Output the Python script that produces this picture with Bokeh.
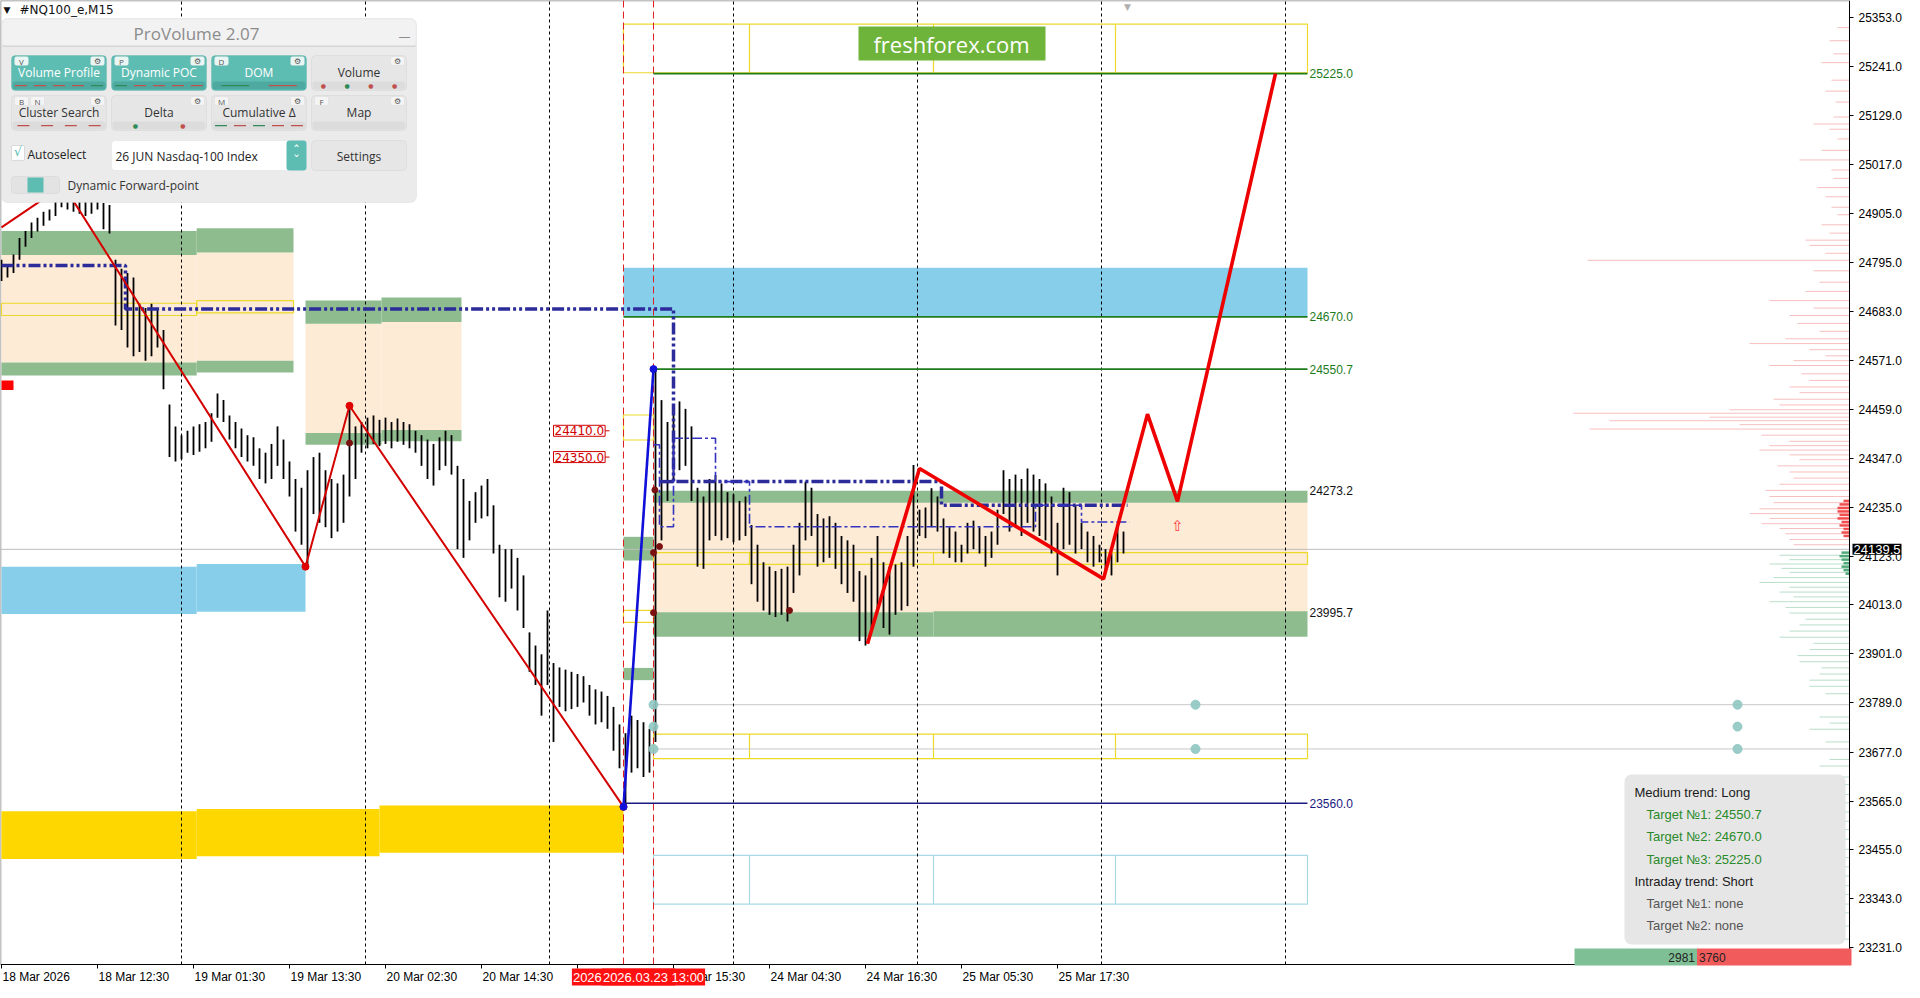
from bokeh.plotting import figure
from bokeh.models import Range1d, FixedTicker, NumeralTickFormatter, Label, BoxAnnotation
from bokeh.core.properties import value
from bokeh.embed import file_html
from bokeh.resources import INLINE

# ---------------- data ----------------
symbol = "#NQ100_e,M15"
bar_step = 3
bars_high_low = [
    (24800, 24752), (24790, 24760), (24812, 24770), (24850, 24800), (24866, 24830), (24885, 24850), (24896, 24865), (24910, 24878), (24915, 24890), (24935, 24900),
    (24970, 24920), (24960, 24915), (24950, 24910), (24945, 24905), (24940, 24900), (24935, 24905), (24940, 24915), (24930, 24870), (24925, 24860), (24800, 24650),
    (24780, 24640), (24770, 24600), (24760, 24580), (24700, 24590), (24690, 24570), (24700, 24580), (24690, 24600), (24640, 24505), (24470, 24350), (24420, 24340),
    (24400, 24345), (24410, 24360), (24420, 24355), (24425, 24362), (24430, 24370), (24450, 24385), (24495, 24440), (24480, 24430), (24445, 24390), (24430, 24370),
    (24415, 24350), (24400, 24340), (24395, 24330), (24370, 24300), (24360, 24290), (24380, 24300), (24420, 24330), (24390, 24300), (24340, 24260), (24300, 24180),
    (24280, 24150), (24320, 24100), (24350, 24220), (24360, 24200), (24320, 24190), (24300, 24165), (24290, 24180), (24310, 24200), (24467, 24260), (24420, 24300),
    (24430, 24360), (24440, 24370), (24445, 24380), (24435, 24375), (24440, 24380), (24430, 24370), (24438, 24385), (24430, 24378), (24425, 24370), (24410, 24360),
    (24400, 24330), (24390, 24300), (24380, 24285), (24395, 24320), (24410, 24330), (24400, 24310), (24330, 24140), (24300, 24120), (24250, 24160), (24270, 24200),
    (24285, 24210), (24300, 24215), (24240, 24130), (24150, 24030), (24140, 24020), (24140, 24050), (24120, 24000), (24080, 23960), (23950, 23860), (23920, 23830),
    (23900, 23760), (24000, 23830), (23880, 23700), (23870, 23780), (23865, 23770), (23860, 23775), (23855, 23780), (23850, 23790), (23830, 23760), (23820, 23740),
    (23815, 23745), (23805, 23730), (23780, 23680), (23740, 23640), (23720, 23560), (23760, 23630), (23750, 23640), (23745, 23620), (23730, 23630), (24550, 23700),
    (24480, 24160), (24430, 24250), (24470, 24300), (24477, 24320), (24460, 24330), (24420, 24250), (24280, 24100), (24260, 24095), (24300, 24160), (24309, 24170),
    (24290, 24160), (24270, 24165), (24265, 24156), (24250, 24160), (24260, 24170), (24195, 24060), (24150, 24020), (24110, 24000), (24100, 23990), (24090, 23985),
    (24095, 23990), (24100, 23975), (24150, 24040), (24200, 24080), (24294, 24160), (24280, 24170), (24220, 24100), (24210, 24110), (24215, 24120), (24200, 24095),
    (24170, 24060), (24160, 24040), (24150, 24020), (24090, 23930), (24080, 23920), (24120, 23960), (24170, 24000), (24110, 23960), (24100, 23945), (24105, 23990),
    (24110, 24000), (24170, 24010), (24332, 24100), (24230, 24170), (24235, 24165), (24279, 24190), (24260, 24180), (24210, 24130), (24190, 24120), (24180, 24110),
    (24150, 24110), (24200, 24130), (24205, 24140), (24190, 24130), (24170, 24100), (24180, 24120), (24230, 24150), (24320, 24220), (24300, 24180), (24310, 24190),
    (24300, 24170), (24324, 24200), (24310, 24180), (24300, 24170), (24290, 24160), (24260, 24130), (24200, 24080), (24280, 24140), (24270, 24150), (24240, 24130),
    (24200, 24140), (24180, 24110), (24170, 24100), (24150, 24110), (24140, 24090), (24130, 24080), (24190, 24110), (24180, 24130),
]
last_price = 24139.5

price_ticks = [25353.0, 25241.0, 25129.0, 25017.0, 24905.0, 24795.0, 24683.0, 24571.0, 24459.0, 24347.0,
               24235.0, 24123.0, 24013.0, 23901.0, 23789.0, 23677.0, 23565.0, 23455.0, 23343.0, 23231.0]
time_ticks = [0, 48, 96, 144, 192, 240, 288, 336, 384, 432, 480, 528]
time_labels = ["18 Mar 2026", "18 Mar 12:30", "19 Mar 01:30", "19 Mar 13:30", "20 Mar 02:30", "20 Mar 14:30",
               "23 Mar 02:30", "23 Mar 15:30", "24 Mar 04:30", "24 Mar 16:30", "25 Mar 05:30", "25 Mar 17:30"]
day_separators = [90, 182, 274, 366, 458, 550, 642]
session_bars = [311, 326]
session_labels = ["2026.03.23 09:15", "2026.03.23 13:00"]

# zones: (x0, x1, bottom, top)
green_bands = [(0, 97.6, 24811, 24866), (97.6, 146, 24817, 24872), (0, 97.6, 24536, 24566), (97.6, 146, 24543, 24570),
               (152, 190, 24654, 24707), (190, 230, 24658, 24714), (152, 190, 24378, 24405), (190, 230, 24386, 24412),
               (326, 653, 24246, 24273.2), (326, 466, 23940, 23995.7), (466, 653, 23940, 23998),
               (311, 326, 24114, 24168), (311, 326, 23841, 23869)]
peach_zones = [(0, 97.6, 24566, 24811), (97.6, 146, 24570, 24817), (152, 190, 24405, 24654), (190, 230, 24412, 24658),
               (326, 653, 23995.7, 24246)]
blue_zones = [(0, 97.6, 23992, 24100), (97.6, 152, 23997, 24106), (311, 653, 24670, 24782)]
gold_zones = [(0, 97.6, 23433, 23542), (97.6, 189, 23439, 23547), (189, 311, 23447, 23555)]
yellow_boxes = [(0, 97.6, 24673, 24701), (97.6, 146, 24679, 24707), (311, 653, 25227, 25338), (326, 653, 24105, 24132),
                (326, 653, 23662, 23718), (311, 326, 24389, 24446), (311, 326, 23973, 24000)]
yellow_dividers = [374, 466, 557]
yellow_divided = [(25227, 25338), (24105, 24132), (23662, 23718)]
cyan_boxes = [(326, 653, 23330, 23441)]

# levels
target_levels = [25225.0, 24670.0, 24550.7]
target_starts = [326, 311, 326]
zone_levels = [24273.2, 23995.7]
low_level = 23560.0
level_end = 653
marker_lines = [23785, 23684]
marker_dots_x = [326, 326, 326, 597, 597, 868, 868, 868]
marker_dots_y = [23785, 23735, 23684, 23785, 23684, 23785, 23735, 23684]
price_tags = [24410.0, 24350.0]

# zigzags
zigzag_x = [0, 31, 152, 174, 311]
zigzag_y = [24874, 24970, 24100, 24467, 23552]
impulse_x = [311, 326]
impulse_y = [23552, 24550.7]
forecast_x = [433, 459, 551, 573, 588, 637]
forecast_y = [23924, 24324, 24072, 24448, 24249, 25225]
poc_x = [0, 62, 62, 336, 336, 470, 470, 563]
poc_y = [24787, 24787, 24688, 24688, 24294, 24294, 24240, 24240]
dev_poc_x = [326, 329, 329, 336, 336, 357, 357, 374, 374, 517, 517, 540, 540, 564]
dev_poc_y = [24378, 24378, 24191, 24191, 24393, 24393, 24294, 24294, 24191, 24191, 24240, 24240, 24202, 24202]
pivot_dots_x = [174, 326.7, 394, 326, 326, 329]
pivot_dots_y = [24382, 24275, 24000, 24132, 23995, 24146]

# volume profile at the right edge (price, volume)
vp_above = [(25330, 6), (25300, 10), (25270, 8), (25250, 14), (25210, 9), (25185, 12), (25160, 7), (25126, 8), (25110, 18), (25098, 10),
            (25076, 6), (25050, 14), (25028, 25), (25005, 9), (24986, 8), (24965, 16), (24944, 12), (24920, 9), (24903, 6), (24880, 14),
            (24861, 10), (24845, 22), (24833, 20), (24815, 12), (24799, 131), (24775, 18), (24749, 15), (24728, 22), (24707, 40), (24690, 18),
            (24673, 30), (24655, 26), (24637, 15), (24620, 32), (24609, 50), (24595, 20), (24581, 12), (24570, 28), (24559, 40), (24540, 24),
            (24525, 20), (24510, 30), (24497, 25), (24482, 38), (24469, 35), (24458, 60), (24450, 138), (24441, 70), (24433, 120), (24424, 55),
            (24414, 130), (24400, 44), (24386, 30), (24376, 40), (24366, 45), (24355, 30), (24344, 25), (24330, 36), (24316, 30), (24302, 28),
            (24288, 35), (24274, 42), (24260, 40), (24246, 38), (24232, 45), (24221, 50), (24210, 40), (24198, 44), (24187, 35), (24175, 32),
            (24162, 30), (24150, 28)]
vp_below = [(24126, 35), (24116, 30), (24106, 40), (24096, 34), (24087, 30), (24075, 38), (24064, 45), (24053, 30), (24042, 35), (24031, 28),
            (24020, 40), (24007, 32), (23994, 30), (23980, 22), (23967, 25), (23953, 30), (23939, 35), (23925, 18), (23911, 20), (23897, 26),
            (23883, 25), (23869, 14), (23855, 15), (23841, 20), (23827, 20), (23810, 12), (23757, 15), (23743, 10), (23729, 20), (23700, 12),
            (23660, 10), (23645, 15), (23620, 18), (23603, 35), (23580, 22), (23561, 40), (23540, 16), (23519, 20), (23500, 12), (23478, 30),
            (23455, 14), (23436, 15), (23415, 22), (23394, 25), (23372, 10), (23352, 20), (23330, 12), (23310, 15), (23280, 8), (23250, 10)]
delta_above = [(24250, 3), (24242, 5), (24234, 6), (24226, 6), (24218, 5), (24210, 6), (24202, 4), (24194, 5), (24186, 3), (24178, 4), (24170, 3)]
delta_below = [(24132, 4), (24124, 5), (24116, 4), (24108, 3), (24100, 4), (24092, 3), (24084, 2)]
buy_volume = 2981
sell_volume = 3760

info_lines = ["Medium trend: Long", "Target №1: 24550.7", "Target №2: 24670.0", "Target №3: 25225.0",
              "Intraday trend: Short", "Target №1: none", "Target №2: none"]

# ---------------- figure ----------------
CW, CH = 1904, 988          # canvas == frame (axes are drawn at fixed locations inside)
PXB = 2.0                   # screen px per bar
X0 = -0.5
X1 = X0 + CW / PXB
AX = 924.0                  # price axis position (bar units)
YTOP = 25391.8
PPX = 2.28174               # price per screen px
YAX = YTOP - 964 * PPX      # time axis position (price units)
YBOT = YTOP - CH * PPX

p = figure(x_range=Range1d(X0, X1), y_range=Range1d(YBOT, YTOP), frame_width=CW, frame_height=CH,
           output_backend="svg", toolbar_location=None, y_axis_location="right",
           min_border_left=0, min_border_top=0, min_border_right=0, min_border_bottom=0,
           background_fill_color="white", border_fill_color="white")
p.xgrid.visible = False
p.ygrid.visible = False
p.outline_line_color = None

p.xaxis.fixed_location = YAX
p.yaxis.fixed_location = AX
p.xaxis.bounds = (X0, AX)
p.yaxis.bounds = (YAX, YTOP)
p.xaxis.ticker = FixedTicker(ticks=time_ticks)
p.xaxis.major_label_overrides = {t: "" for t in time_ticks}
p.yaxis.ticker = FixedTicker(ticks=price_ticks)
p.yaxis.formatter = NumeralTickFormatter(format="0.0")
for ax in (p.xaxis, p.yaxis):
    ax.minor_tick_line_color = None
    ax.major_tick_out = 4
    ax.major_tick_in = 0
    ax.axis_line_color = "black"
    ax.major_tick_line_color = "black"
    ax.major_label_text_font = "Liberation Sans"
    ax.major_label_text_font_size = "12px"
    ax.major_label_text_color = "black"
p.yaxis.major_label_standoff = 5


def X(px):
    return X0 + (px - 4) / PXB


def Y(py):
    return YTOP - (py - 6) * PPX


def cols(rows):
    return [list(c) for c in zip(*rows)]


# frame border (top / left)
p.segment(x0=[X0, X0], x1=[AX, X0], y0=[YTOP, YTOP], y1=[YTOP, YAX], line_color="#888888", line_width=1.5)

# time-axis labels, left-aligned at their ticks (MetaTrader style)
p.text(x=time_ticks, y=[YAX] * len(time_ticks), text=time_labels, text_align="left", text_baseline="top",
       x_offset=1, y_offset=5, text_font=value("Liberation Sans"), text_font_size="12px", text_color="black")

# zones
for rows, fill in ((peach_zones, "#fdebd6"), (green_bands, "#8fbc8f"), (blue_zones, "#87ceeb"), (gold_zones, "#ffd700")):
    l, r, b, t = cols(rows)
    p.quad(left=l, right=r, bottom=b, top=t, fill_color=fill, line_color=None)
l, r, b, t = cols(yellow_boxes)
p.quad(left=l, right=r, bottom=b, top=t, fill_alpha=0, line_color="#ecd92a", line_width=1.2)
l, r, b, t = cols(cyan_boxes)
p.quad(left=l, right=r, bottom=b, top=t, fill_alpha=0, line_color="#a9d9e6", line_width=1.2)
dx, dy0, dy1 = [], [], []
for lo, hi in yellow_divided:
    for d in yellow_dividers:
        dx.append(d); dy0.append(lo); dy1.append(hi)
p.segment(x0=dx, x1=dx, y0=dy0, y1=dy1, line_color="#ecd92a", line_width=1.2)
cdx, cdy0, cdy1 = [], [], []
for (_, _, lo, hi) in cyan_boxes:
    for d in yellow_dividers:
        cdx.append(d); cdy0.append(lo); cdy1.append(hi)
p.segment(x0=cdx, x1=cdx, y0=cdy0, y1=cdy1, line_color="#a9d9e6", line_width=1.2)

# volume profile
for rows, col, alpha, lw in ((vp_above, "#f08a8a", 0.55, 1), (vp_below, "#7fc39a", 0.55, 1),
                             (delta_above, "#f03c3c", 0.9, 2.5), (delta_below, "#3fa06a", 0.9, 2.5)):
    vp_p, vp_v = cols(rows)
    p.segment(x0=[AX - v for v in vp_v], x1=[AX] * len(vp_v), y0=vp_p, y1=vp_p, line_color=col, line_alpha=alpha, line_width=lw)

# marker lines and current price line
p.segment(x0=[326] * len(marker_lines), x1=[AX] * len(marker_lines), y0=marker_lines, y1=marker_lines,
          line_color="#c8c8c8", line_width=1)
p.segment(x0=[X0], x1=[AX], y0=[last_price], y1=[last_price], line_color="#bdbdbd", line_width=1)

# candles
bar_x = [bar_step * i for i in range(len(bars_high_low))]
highs, lows = cols(bars_high_low)
p.segment(x0=bar_x, x1=bar_x, y0=lows, y1=highs, line_color="black", line_width=1.8)

# day separators and session lines
p.segment(x0=day_separators, x1=day_separators, y0=[YAX] * len(day_separators), y1=[YTOP] * len(day_separators),
          line_color="black", line_width=1, line_dash="3 3")
p.segment(x0=session_bars, x1=session_bars, y0=[YAX] * len(session_bars), y1=[YTOP] * len(session_bars),
          line_color="#e02020", line_width=1, line_dash="7 4")

# levels
for lvl, st in zip(target_levels, target_starts):
    p.segment(x0=[st], x1=[level_end], y0=[lvl], y1=[lvl], line_color="#1e7b1e", line_width=1.6)
p.segment(x0=[311], x1=[level_end], y0=[low_level], y1=[low_level], line_color="#1a1a80", line_width=1.6)

# POC lines
p.line(poc_x, poc_y, line_color="#2b2b9a", line_width=3.5, line_dash="12 3 3 3 3 3")
p.segment(x0=[329], x1=[336], y0=[24294], y1=[24294], line_color="#2b2b9a", line_width=3.5)
p.line(dev_poc_x, dev_poc_y, line_color="#3333c0", line_width=1.6, line_dash="10 3 3 3")

# zigzags
p.line(zigzag_x, zigzag_y, line_color="#d40000", line_width=2)
p.scatter(zigzag_x[2:], zigzag_y[2:], size=7, color="#e00000")
p.line(impulse_x, impulse_y, line_color="#1010d8", line_width=2.6)
p.scatter(impulse_x, impulse_y, size=7, color="#1010d8")
p.line(forecast_x, forecast_y, line_color="#ee0000", line_width=3.6)
p.scatter(pivot_dots_x, pivot_dots_y, size=6, color="#7a1010")
p.scatter(marker_dots_x, marker_dots_y, size=9, color="#8fc7c2", alpha=0.9)

# red marker square
p.quad(left=[0], right=[6], bottom=[24503], top=[24525], fill_color="#ff0000", line_color=None)

# level labels
for lvl in target_levels:
    p.add_layout(Label(x=level_end + 1, y=lvl, text=f"{lvl:.1f}", text_font="Liberation Sans", text_font_size="12px",
                       text_color="#1e7b1e", text_baseline="middle"))
for lvl in zone_levels:
    p.add_layout(Label(x=level_end + 1, y=lvl, text=f"{lvl:.1f}", text_font="Liberation Sans", text_font_size="12px",
                       text_color="#111111", text_baseline="middle"))
p.add_layout(Label(x=level_end + 1, y=low_level, text=f"{low_level:.1f}", text_font="Liberation Sans", text_font_size="12px",
                   text_color="#1a1a80", text_baseline="middle"))
for tg in price_tags:
    p.segment(x0=[299], x1=[304], y0=[tg], y1=[tg], line_color="#d00000", line_width=1)
    p.add_layout(Label(x=276, y=tg, text=f"{tg:.1f}", text_font="DejaVu Sans", text_font_size="12px",
                       text_color="#d00000", text_baseline="middle", background_fill_color="white",
                       border_line_color="#d00000", padding=1))
p.add_layout(Label(x=588, y=24193, text="⇧", text_font="DejaVu Sans", text_font_size="15px",
                   text_color="#ff3b3b", text_align="center", text_baseline="middle"))

# current price tag and session labels on axes
p.add_layout(Label(x=AX, y=last_price, x_offset=3, text=f"{last_price:.1f}", text_font="Liberation Sans", text_font_size="13px",
                   text_color="white", background_fill_color="black", text_baseline="middle", padding=1))
for s, t in zip(session_bars, session_labels):
    p.add_layout(Label(x=s, y=YAX, y_offset=-4, text=t, text_font="Liberation Sans", text_font_size="13px",
                       text_color="white", background_fill_color="#ff1010", text_align="center", text_baseline="top",
                       padding=1))


# ---------------- overlays (pixel-positioned decoration) ----------------
def box(x0, y0, x1, y1, fill, line=None, lw=1, radius=0, alpha=1.0):
    p.add_layout(BoxAnnotation(left=X(x0), right=X(x1), top=Y(y0), bottom=Y(y1), fill_color=fill, fill_alpha=alpha,
                               line_color=line, line_width=lw, border_radius=radius))


def txt(x, y, s, size=12, color="#222222", align="left", font="Open Sans", style="normal"):
    p.add_layout(Label(x=X(x), y=Y(y), text=s, text_font_size=f"{size}px", text_color=color, text_align=align,
                       text_baseline="middle", text_font=font, text_font_style=style))


txt(7, 15, "▼", 9, "#111111", font="DejaVu Sans")
txt(23, 15, symbol, 12, "#111111", font="DejaVu Sans")
txt(1131, 12, "▼", 9, "#b0b0b0", align="center", font="DejaVu Sans")

# freshforex badge
box(862, 32, 1049, 66, "#6fb43a")
txt(955, 49, "freshforex.com", 22, "white", align="center", font="Open Sans")

# ProVolume panel
TEAL, TEAL_D, RED_D, GRN_D = "#5ebdb3", "#4eaaa1", "#c0504d", "#2e8b57"
box(5, 24, 420, 208, "#ebebeb", "#cdcdcd", 1, 6)
box(6, 25, 419, 52, "#f2f2f2", None, 0, 5)
box(6, 51, 419, 52.5, "#d6d6d6")
txt(200, 39, "ProVolume 2.07", 17, "#8c8c8c", align="center", font="Open Sans")
txt(408, 42, "—", 12, "#8c8c8c", align="center", font="DejaVu Sans")


def button(x0, y0, x1, y1, label, active, tags, dashes, kind="dash"):
    box(x0, y0, x1, y1, TEAL if active else "#e6e6e6", "#4fa9a0" if active else "#c6c6c6", 1, 4)
    box(x0 + 1, y1 - 9, x1 - 1, y1 - 1, TEAL_D if active else "#dcdcdc", None, 0, 3)
    txt((x0 + x1) / 2, y0 + 17, label, 12, "white" if active else "#333333", align="center")
    tx = x0 + 3
    for tg in tags:
        box(tx, y0 + 1, tx + 14, y0 + 10, "#eaf6f4" if active else "#f4f4f4", "#bbbbbb", 0.6, 2)
        txt(tx + 7, y0 + 5.5, tg, 8, "#555555", align="center")
        tx += 16
    box(x1 - 16, y0 + 1, x1 - 2, y0 + 10, "#eaf6f4" if active else "#f4f4f4", "#bbbbbb", 0.6, 2)
    txt(x1 - 9, y0 + 5.5, "⚙", 8, "#555555", align="center", font="DejaVu Sans")
    n = len(dashes)
    for i, c in enumerate(dashes):
        cx = x0 + (i + 0.5) * (x1 - x0) / n
        col = RED_D if c == "r" else GRN_D
        if kind == "dot":
            txt(cx, y1 - 5, "●", 6, col, align="center", font="DejaVu Sans")
        elif kind == "long":
            box(cx - 14, y1 - 5.5, cx + 14, y1 - 4.2, col)
        else:
            box(cx - 6, y1 - 5.5, cx + 6, y1 - 4.2, col)


button(15, 61, 110, 96, "Volume Profile", True, ["V"], "rrrrg")
button(115, 61, 210, 96, "Dynamic POC", True, ["P"], "grrrr")
button(215, 61, 310, 96, "DOM", True, ["D"], "gr", "long")
button(315, 61, 410, 96, "Volume", False, [], "rgrr", "dot")
button(15, 101, 110, 136, "Cluster Search", False, ["B", "N"], "rrrr")
button(115, 101, 210, 136, "Delta", False, [], "gr", "dot")
button(215, 101, 310, 136, "Cumulative Δ", False, ["M"], "grgrr")
button(315, 101, 410, 136, "Map", False, ["F"], "")

box(15, 151, 28, 166, "white", "#9a9a9a", 1, 1)
txt(21.5, 157, "√", 13, TEAL, align="center", font="DejaVu Sans")
txt(31, 160, "Autoselect", 12, "#222222")
box(115, 146, 310, 176, "white", "#cfcfcf", 1, 4)
txt(119, 162, "26 JUN Nasdaq-100 Index", 12, "#222222")
box(290, 146, 310, 176, TEAL, None, 0, 3)
txt(300, 156, "ˆ", 14, "white", align="center", font="DejaVu Sans")
txt(300, 166, "ˇ", 14, "white", align="center", font="DejaVu Sans")
box(315, 146, 410, 176, "#e6e6e6", "#c6c6c6", 1, 4)
txt(362.5, 162, "Settings", 12, "#333333", align="center")
box(15, 182, 63, 199, "#e3e3e3", "#c6c6c6", 1, 3)
box(31, 183, 47, 198, TEAL)
txt(71, 191, "Dynamic Forward-point", 12, "#333333")

# info box bottom right
box(1628, 780, 1849, 950, "#e6e6e6", None, 0, 7)
info_colors = ["#1a1a1a", "#2a8a2a", "#2a8a2a", "#2a8a2a", "#1a1a1a", "#555555", "#555555"]
info_x = [1638, 1650, 1650, 1650, 1638, 1650, 1650]
for i, (s, c, x) in enumerate(zip(info_lines, info_colors, info_x)):
    txt(x, 798 + i * 22.2, s, 13, c, font="Liberation Sans")

# buy / sell bar
total_px = 1855 - 1578
split = 1578 + total_px * buy_volume / (buy_volume + sell_volume)
box(1578, 954, split, 971, "#7fbf95")
box(split, 954, 1855, 971, "#f25b5b")
txt(split - 2, 962.5, str(buy_volume), 12, "#222222", align="right", font="Liberation Sans")
txt(split + 2, 962.5, str(sell_volume), 12, "#222222", align="left", font="Liberation Sans")

open("out.html", "w").write(file_html(p, INLINE))
